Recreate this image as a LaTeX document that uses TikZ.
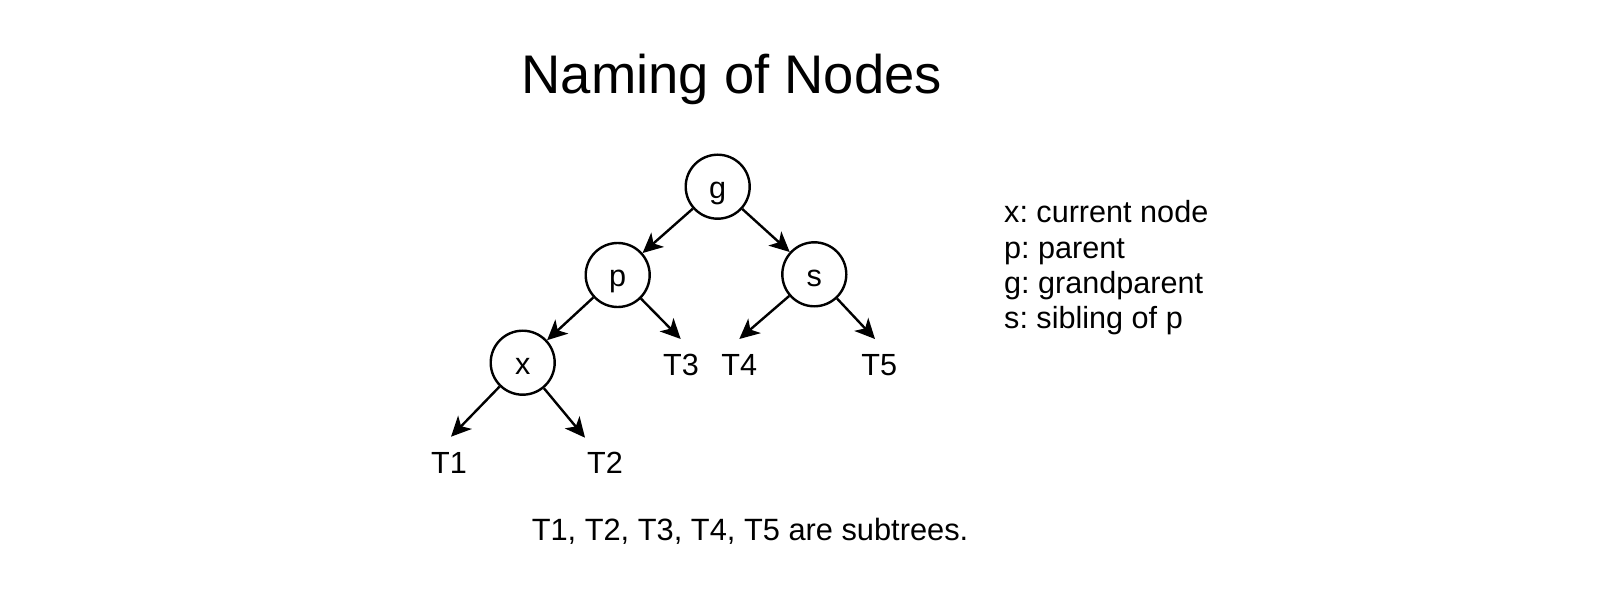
\documentclass[tikz,border=0pt]{standalone}
\usepackage{fontspec}
\setmainfont{Liberation Sans}
\usetikzlibrary{arrows.meta}
\frenchspacing
\tikzset{
  treenode/.style={circle, draw=black, line width=2.4pt, minimum size=64pt, inner sep=0pt,
    font=\fontsize{30.6}{34}\selectfont, text height=24pt, text depth=0pt},
  lbl/.style={anchor=base, inner sep=0pt, font=\fontsize{30.6}{34}\selectfont},
  legend/.style={anchor=base west, inner sep=0pt, font=\fontsize{30.6}{34}\selectfont},
  arr/.style={line width=2.4pt, -{Stealth[length=20pt, width=19pt, inset=5.5pt]}}
}
\begin{document}
\begin{tikzpicture}[x=1pt, y=-1pt]
\useasboundingbox[fill=white] (0,0) rectangle (1606,612);
% title
\node[anchor=base, inner sep=0pt, font=\fontsize{54.4}{60}\selectfont] (title) at (731.7,94) {Naming of Nodes};
% tree nodes
\node[treenode] (g) at (717.7,186.7) {g};
\node[treenode] (p) at (617.7,275) {p};
\node[treenode] (s) at (814.3,274.3) {s};
\node[treenode] (x) at (522.7,362.7) {x};
% subtree labels
\node[lbl] (T1) at (449,473.3) {T1};
\node[lbl] (T2) at (605,473.3) {T2};
\node[lbl] (T3) at (681,375) {T3};
\node[lbl] (T4) at (739.3,375) {T4};
\node[lbl] (T5) at (879.3,375) {T5};
% arrow end points
\coordinate (e1) at (451,436.7);
\coordinate (e2) at (585,437.7);
\coordinate (e3) at (680.7,339);
\coordinate (e4) at (739.3,339);
\coordinate (e5) at (875,339);
% connectors
\draw[arr] (g) -- (p);
\draw[arr] (g) -- (s);
\draw[arr] (p) -- (x);
\draw[arr] (p) -- (e3);
\draw[arr] (s) -- (e4);
\draw[arr] (s) -- (e5);
\draw[arr] (x) -- (e1);
\draw[arr] (x) -- (e2);
% legend
\node[legend] (l1) at (1004,222.7) {x: current node};
\node[legend] (l2) at (1004,258.6) {p: parent};
\node[legend] (l3) at (1004,293.4) {g: grandparent};
\node[legend] (l4) at (1004,328.2) {s: sibling of p};
% footer
\node[anchor=base, inner sep=0pt, font=\fontsize{30.8}{34}\selectfont] (foot) at (750,540.7) {T1, T2, T3, T4, T5 are subtrees.};
\end{tikzpicture}
\end{document}
